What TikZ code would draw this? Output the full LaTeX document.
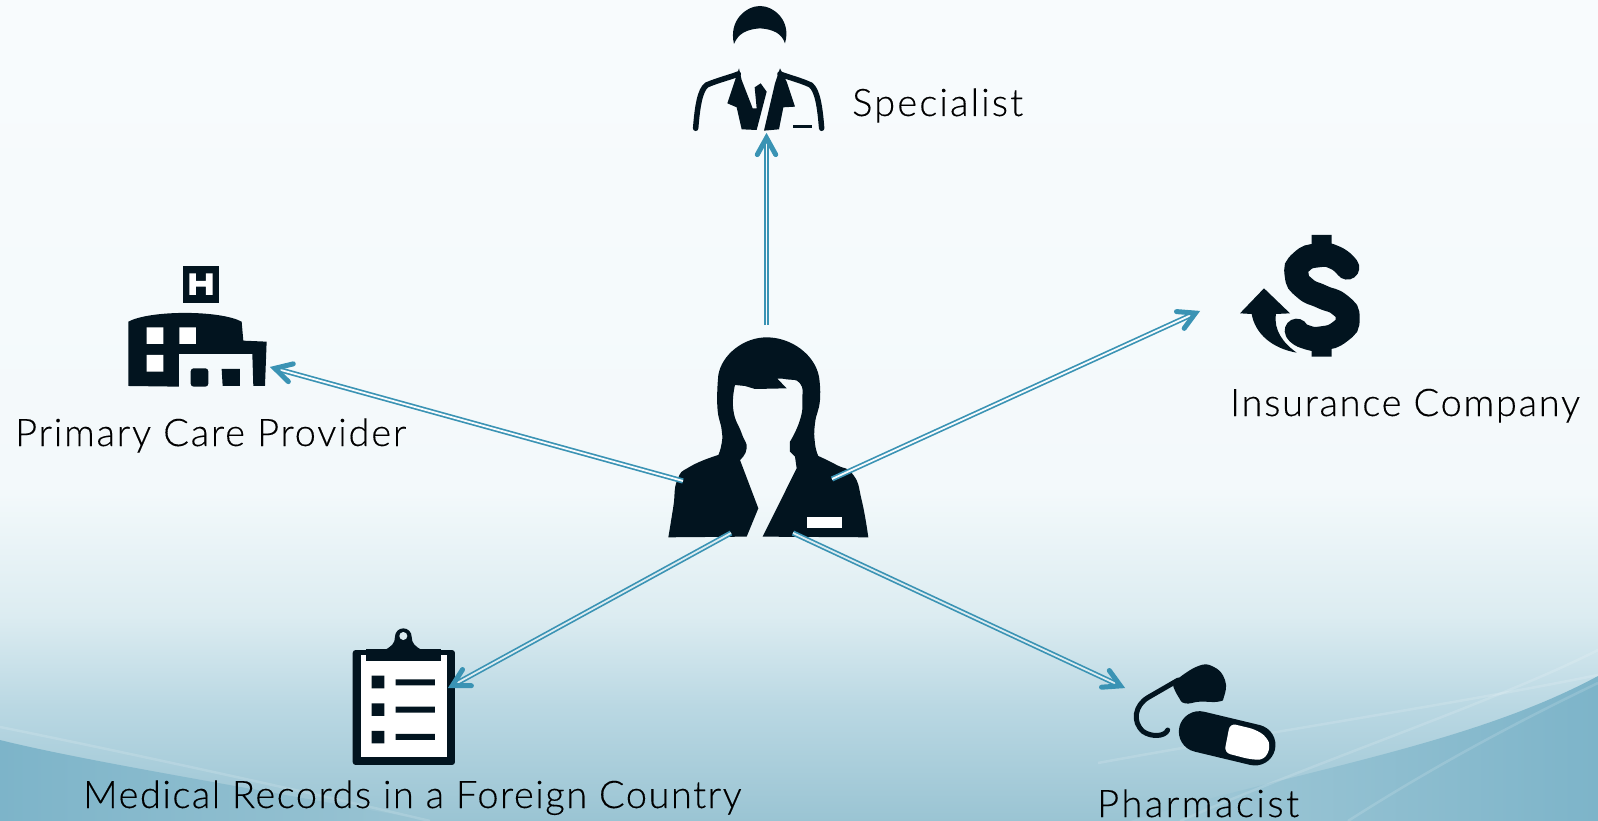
\documentclass[tikz,border=0pt]{standalone}
\usepackage{fontspec}
\setmainfont[LetterSpace=3.5,FakeBold=0.3]{Lato Light}
\usetikzlibrary{calc}
\definecolor{ink}{HTML}{02141F}
\definecolor{teal}{HTML}{3A93B4}
\definecolor{bgT}{HTML}{F8FBFD}
\definecolor{bgA}{HTML}{F3F9FB}
\definecolor{bgB}{HTML}{DCECF1}
\definecolor{bgC}{HTML}{BAD8E3}
\definecolor{bgD}{HTML}{9AC4D3}
\definecolor{dkA}{HTML}{A3CAD8}
\definecolor{dkB}{HTML}{7DB4C9}
\pgfdeclareverticalshading{skybg}{100bp}{
 color(0bp)=(bgD); color(25bp)=(bgD); color(32bp)=(bgC); color(37.5bp)=(bgB); color(45bp)=(bgA); color(75bp)=(bgT); color(100bp)=(bgT)}
\tikzset{
 x=1pt,y=-1pt,
 link/.style={draw=teal,line width=1.7pt,double=#1,double distance=1.8pt,shorten >=7pt},
 link/.default=white,
 barbhead/.style={draw=teal,line width=5pt,line cap=round,line join=miter,miter limit=10,fill=none},
 lbl/.style={anchor=base west,inner sep=0pt,text=black,font=\fontsize{38}{38}\selectfont\addfontfeatures{LetterSpace=#1}},
 icon/.style={inner sep=0pt,minimum width=#1},
 zoomed/.style={x=.3333pt,y=-.3333pt},
 swoosh/.style={draw=white,opacity=.14,line width=2.5pt,fill=none}
}
\newcommand{\barbat}[2]{%
 \coordinate (apex) at ($(#1)!5pt!(#2)$);
 \draw[barbhead] ($(apex)!19pt!29:(#2)$) -- (apex) -- ($(apex)!19pt!-29:(#2)$);}
\begin{document}
\begin{tikzpicture}
\useasboundingbox (0,0) rectangle (1598,821);
% background
\path[shading=skybg] (0,0) rectangle (1598,821);
\shade[left color=dkB,right color=bgD] (0,740) .. controls (80,760) and (233,785) .. (430,821) -- (0,821) -- cycle;
\shade[left color=dkA,right color=dkB] (1598,676) .. controls (1470,745) and (1300,770) .. (1130,821) -- (1598,821) -- cycle;
\draw[swoosh] (0,727) .. controls (100,747) and (300,790) .. (430,821);
\draw[swoosh] (1098,763) .. controls (1250,735) and (1450,705) .. (1598,675);
\draw[swoosh] (1598,650) .. controls (1500,700) and (1320,760) .. (1180,821);
\draw[swoosh] (1598,683) .. controls (1500,730) and (1420,775) .. (1348,821);

% named connector ends
\coordinate (wU) at (766.5,325);
\coordinate (wL) at (683,481);
\coordinate (wR) at (832,479);
\coordinate (wLL) at (731,533);
\coordinate (wLR) at (793,533);
\coordinate (tS) at (766.5,133);
\coordinate (tP) at (270,367);
\coordinate (tI) at (1200,311);
\coordinate (tM) at (448,688);
\coordinate (tR) at (1125,688);

% Woman
\begin{scope}[shift={(640,320)},zoomed]
\fill[ink] plot[smooth,tension=.9] coordinates {(85,652) (100,560) (112,480) (150,440) (235,405)}
 -- plot[smooth,tension=.9] coordinates {(235,405) (245,370) (245,330) (232,260) (235,165)}
 .. controls (245,105) and (310,52) .. (380,52) .. controls (455,52) and (525,105) .. (537,170)
 -- plot[smooth,tension=.9] coordinates {(537,170) (540,240) (525,310) (525,370) (535,408)}
 -- plot[smooth,tension=.9] coordinates {(535,408) (590,435) (640,465) (665,540) (685,652)}
 -- (368,650) -- (470,445) -- (465,410) -- (450,395) -- (450,365)
 -- plot[smooth,tension=.9] coordinates {(450,365) (480,300) (487,240) (480,190) (440,178) (412,176)}
 -- (440,205) -- (345,207) -- (315,198) -- (285,195)
 -- plot[smooth,tension=.9] coordinates {(285,195) (280,270) (305,340) (320,385) (300,420)}
 -- (355,565) -- (320,650) -- cycle;
\fill[white] (500,592) rectangle (605,625);
\end{scope}
\node[icon=1pt] (woman) at (766,430) {};

% Doctor
\begin{scope}[shift={(640,0)},zoomed]
\fill[ink] (282,132) .. controls (265,60) and (320,18) .. (360,18) .. controls (400,18) and (455,60) .. (435,130) .. controls (425,100) and (400,88) .. (360,85) .. controls (320,88) and (295,100) .. (282,132) -- cycle;
\draw[ink,line width=5.5pt,line cap=round] (167,385) .. controls (172,320) and (180,270) .. (200,255) .. controls (235,240) and (270,232) .. (295,222);
\draw[ink,line width=5.5pt,line cap=round] (545,385) .. controls (540,320) and (532,270) .. (512,255) .. controls (480,240) and (445,232) .. (420,222);
\fill[ink] (297,205) -- (262,310) -- (290,322) -- (305,388) -- (350,390) -- (380,275) -- (362,250) -- (344,262) -- (350,325) -- (338,325) -- (305,240) -- cycle;
\fill[ink] (420,205) -- (405,250) -- (372,392) -- (417,388) -- (430,322) -- (465,320) -- (440,245) -- cycle;
\fill[ink] (460,374) rectangle (515,383);
\end{scope}
\node[icon=1pt] (doctor) at (760,70) {};

% Hospital
\begin{scope}[shift={(100,250)},zoomed]
\fill[ink] (248,48) rectangle (358,158);
\fill[white] (268,70) rectangle (288,135) (318,70) rectangle (338,135) (288,93) rectangle (318,110);
\fill[ink] (85,215) .. controls (150,180) and (360,180) .. (425,215) -- (430,272) -- (500,275) -- (495,408) -- (460,408) -- (457,312) -- (237,312) -- (237,410) -- (85,408) -- cycle;
\fill[white] (140,232) rectangle (190,282) (238,232) rectangle (288,282) (140,315) rectangle (190,365);
\fill[ink,rounded corners=3pt] (272,355) rectangle (325,410);
\fill[ink] (365,357) -- (420,357) -- (420,408) -- (368,408) -- cycle;
\end{scope}
\node[icon=1pt] (hospital) at (200,345) {};

% Dollar
\begin{scope}[shift={(1200,220)},zoomed]
\draw[ink,line width=24pt,line cap=round] plot[smooth,tension=1] coordinates {(442,143) (405,113) (355,106) (305,125) (290,165) (315,205) (365,230) (420,255) (443,295) (420,335) (365,355) (315,350) (290,332)};
\fill[ink] (335,45) rectangle (395,95) (335,360) rectangle (395,410);
\fill[ink] (120,280) -- (192,205) -- (270,280) -- (228,282) .. controls (220,330) and (250,370) .. (290,398) .. controls (215,385) and (165,340) .. (155,282) -- cycle;
\end{scope}
\node[icon=1pt] (money) at (1300,290) {};

% Clipboard
\begin{scope}[shift={(330,610)},zoomed]
\fill[ink,rounded corners=3pt] (68,120) rectangle (375,465);
\fill[white] (92,135) rectangle (350,440);
\fill[ink] (108,118) rectangle (332,152);
\fill[ink] (160,122) .. controls (185,110) and (195,100) .. (195,80) arc[start angle=180,end angle=360,radius=25] .. controls (245,100) and (255,110) .. (280,122) -- cycle;
\fill[bgB] (220,78) circle[radius=12];
\fill[ink] (125,197) rectangle (163,235) (125,280) rectangle (163,318) (125,363) rectangle (163,400);
\fill[ink] (197,208) rectangle (315,226) (197,290) rectangle (315,308) (197,372) rectangle (315,390);
\end{scope}
\node[icon=1pt] (records) at (404,700) {};

% Pills
\begin{scope}[shift={(1090,650)},zoomed]
\fill[ink] plot[smooth,tension=.8] coordinates {(250,97) (320,50) (370,50) (405,90) (402,140) (385,155) (330,155) (285,160) (265,140) (250,110)} -- cycle;
\draw[ink,line width=5pt,line cap=round] (265,90) -- (175,142) .. controls (135,165) and (125,215) .. (160,245) .. controls (185,262) and (225,260) .. (233,240);
\draw[ink,line width=41pt,line cap=round] (328,245) -- (495,285);
\fill[white,rounded corners=6pt] (420,220) -- (495,238) -- (530,260) -- (542,292) -- (522,330) -- (480,328) -- (403,308) -- cycle;
\end{scope}
\node[icon=1pt] (pills) at (1200,710) {};

% Connectors
\draw[link={bgT}] (wU) -- (tS); \barbat{tS}{wU}
\draw[link={bgT}] (wL) -- (tP); \barbat{tP}{wL}
\draw[link={bgT}] (wR) -- (tI); \barbat{tI}{wR}
\draw[link={bgB}] (wLL) -- (tM); \barbat{tM}{wLL}
\draw[link={bgB}] (wLR) -- (tR); \barbat{tR}{wLR}

% Labels
\node[lbl=5.7] (lS) at (852,116) {Specialist};
\node[lbl=4.8] (lP) at (15,446) {Primary Care Provider};
\node[lbl=4.6] (lI) at (1230,416) {Insurance Company};
\node[lbl=4] (lM) at (83,808) {Medical Records in a Foreign Country};
\node[lbl=6.7] (lR) at (1097,817) {Pharmacist};
\end{tikzpicture}
\end{document}
